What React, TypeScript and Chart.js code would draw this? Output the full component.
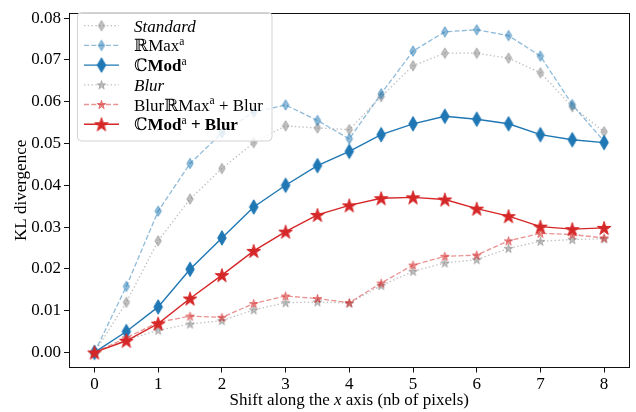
import React, { useEffect, useRef } from "react";
import { Chart, registerables } from "chart.js";

Chart.register(...registerables);

// ---------------- data ----------------
const shifts = [0, 0.5, 1, 1.5, 2, 2.5, 3, 3.5, 4, 4.5, 5, 5.5, 6, 6.5, 7, 7.5, 8];
const xTicks = [0, 1, 2, 3, 4, 5, 6, 7, 8];
const yTicks = [0, 0.01, 0.02, 0.03, 0.04, 0.05, 0.06, 0.07, 0.08];

const standard = [0.0, 0.0120, 0.0267, 0.0367, 0.0440, 0.0502, 0.0542, 0.0537, 0.0533, 0.0612, 0.0686, 0.0716, 0.0716, 0.0704, 0.0669, 0.0588, 0.0528];
const rmax = [0.0, 0.0158, 0.0338, 0.0452, 0.0525, 0.0575, 0.0592, 0.0555, 0.0511, 0.0619, 0.0721, 0.0767, 0.0772, 0.0758, 0.0709, 0.0593, 0.0505];
const cmod = [0.0, 0.0050, 0.0109, 0.0199, 0.0274, 0.0348, 0.0400, 0.0447, 0.0481, 0.0521, 0.0547, 0.0565, 0.0558, 0.0547, 0.0521, 0.0509, 0.0502];
const blur = [0.0, 0.0030, 0.0053, 0.0068, 0.0076, 0.0102, 0.0119, 0.0121, 0.0118, 0.0160, 0.0194, 0.0214, 0.0222, 0.0249, 0.0266, 0.0270, 0.0272];
const blurRmax = [0.0, 0.0035, 0.0072, 0.0087, 0.0084, 0.0117, 0.0135, 0.0129, 0.0119, 0.0166, 0.0209, 0.0230, 0.0233, 0.0267, 0.0285, 0.0282, 0.0274];
const cmodBlur = [0.0, 0.0028, 0.0069, 0.0129, 0.0185, 0.0243, 0.0289, 0.0329, 0.0352, 0.0369, 0.0371, 0.0366, 0.0344, 0.0326, 0.0301, 0.0295, 0.0298];

type Run = { t: string; s?: "italic" | "bold"; sup?: boolean };

const legendLabels: Run[][] = [
  [{ t: "Standard", s: "italic" }],
  [{ t: "ℝMax" }, { t: "a", sup: true }],
  [{ t: "ℂ" }, { t: "Mod", s: "bold" }, { t: "a", sup: true }],
  [{ t: "Blur", s: "italic" }],
  [{ t: "BlurℝMax" }, { t: "a", sup: true }, { t: " + Blur" }],
  [{ t: "ℂ" }, { t: "Mod", s: "bold" }, { t: "a", sup: true }, { t: " + Blur", s: "bold" }],
];
const xTitle: Run[] = [{ t: "Shift along the " }, { t: "x", s: "italic" }, { t: " axis (nb of pixels)" }];
const yTitle: Run[] = [{ t: "KL divergence" }];

// ---------------- styling ----------------
const FONT = '"Liberation Serif", "DejaVu Serif", "Times New Roman", serif';
const FS = 17;

const GRAY_LINE = "rgba(128,128,128,0.5)";
const BLUE = "rgb(31,119,180)";
const BLUE_A = "rgba(31,119,180,0.5)";
const RED = "rgb(214,39,40)";
const RED_A = "rgba(214,39,40,0.5)";

function diamond(w: number, h: number, color: string, lw: number) {
  const c = document.createElement("canvas");
  c.width = Math.ceil(w + lw + 4);
  c.height = Math.ceil(h + lw + 4);
  const g = c.getContext("2d")!;
  const cx = c.width / 2, cy = c.height / 2;
  g.beginPath();
  g.moveTo(cx, cy - h / 2);
  g.lineTo(cx + w / 2, cy);
  g.lineTo(cx, cy + h / 2);
  g.lineTo(cx - w / 2, cy);
  g.closePath();
  g.fillStyle = color;
  g.fill();
  g.strokeStyle = color;
  g.lineWidth = lw;
  g.lineJoin = "miter";
  g.stroke();
  return c;
}

function star(R: number, color: string, lw: number) {
  const c = document.createElement("canvas");
  c.width = Math.ceil(2 * R + lw + 4);
  c.height = Math.ceil(2 * R + lw + 4);
  const g = c.getContext("2d")!;
  const cx = c.width / 2, cy = c.height / 2 + R * 0.1;
  const r = R * 0.382;
  g.beginPath();
  for (let k = 0; k < 10; k++) {
    const ang = -Math.PI / 2 + (k * Math.PI) / 5;
    const rad = k % 2 === 0 ? R : r;
    const px = cx + rad * Math.cos(ang), py = cy + rad * Math.sin(ang);
    if (k === 0) g.moveTo(px, py); else g.lineTo(px, py);
  }
  g.closePath();
  g.fillStyle = color;
  g.fill();
  g.strokeStyle = color;
  g.lineWidth = lw;
  g.lineJoin = "miter";
  g.stroke();
  return c;
}

function fontFor(r: Run, size: number) {
  const st = r.s === "italic" ? "italic " : "";
  const wt = r.s === "bold" ? "bold " : "";
  return `${st}${wt}${r.sup ? size * 0.68 : size}px ${FONT}`;
}

function runsWidth(ctx: CanvasRenderingContext2D, runs: Run[], size: number) {
  let w = 0;
  for (const r of runs) {
    ctx.font = fontFor(r, size);
    w += ctx.measureText(r.t).width;
  }
  return w;
}

function drawRuns(ctx: CanvasRenderingContext2D, runs: Run[], x: number, y: number, size: number) {
  let cx = x;
  ctx.textBaseline = "alphabetic";
  ctx.textAlign = "left";
  for (const r of runs) {
    ctx.font = fontFor(r, size);
    ctx.fillText(r.t, cx, r.sup ? y - size * 0.38 : y);
    cx += ctx.measureText(r.t).width;
  }
}

export default function App() {
  const ref = useRef<HTMLCanvasElement | null>(null);

  useEffect(() => {
    const canvas = ref.current!;
    const mk = (arr: number[]) => shifts.map((x, i) => ({ x, y: arr[i] }));

    const series = [
      { label: "Standard", data: standard, line: GRAY_LINE, dash: [1.4, 2.4], lw: 1.3, marker: diamond(6.5, 10.5, "rgba(128,128,128,0.5)", 1) },
      { label: "RMax", data: rmax, line: BLUE_A, dash: [5, 2.3], lw: 1.3, marker: diamond(6.5, 10.5, BLUE_A, 1) },
      { label: "CMod", data: cmod, line: BLUE, dash: [], lw: 1.4, marker: diamond(8.5, 14.5, BLUE, 1) },
      { label: "Blur", data: blur, line: GRAY_LINE, dash: [1.4, 2.4], lw: 1.3, marker: star(4.6, "rgba(128,128,128,0.5)", 1) },
      { label: "BlurRMax", data: blurRmax, line: RED_A, dash: [5, 2.3], lw: 1.3, marker: star(4.6, RED_A, 1) },
      { label: "CModBlur", data: cmodBlur, line: RED, dash: [], lw: 1.4, marker: star(7.2, RED, 1) },
    ];

    const decor = {
      id: "decor",
      afterDraw(chart: any) {
        const ctx: CanvasRenderingContext2D = chart.ctx;
        const a = chart.chartArea;
        ctx.save();
        // frame
        ctx.strokeStyle = "#111";
        ctx.lineWidth = 1;
        const l = Math.round(a.left) + 0.5, t = Math.round(a.top) + 0.5;
        const r = Math.round(a.right) - 0.5, b = Math.round(a.bottom) - 0.5;
        ctx.strokeRect(l, t, r - l, b - t);

        ctx.fillStyle = "#000";
        // x title
        const xw = runsWidth(ctx, xTitle, FS);
        drawRuns(ctx, xTitle, (a.left + a.right) / 2 - xw / 2, 405, FS);
        // y title
        ctx.save();
        ctx.translate(26, (a.top + a.bottom) / 2);
        ctx.rotate(-Math.PI / 2);
        const yw = runsWidth(ctx, yTitle, FS);
        drawRuns(ctx, yTitle, -yw / 2, 0, FS);
        ctx.restore();

        // legend
        const bx = 77.5, by = 12.5, bw = 194.5, bh = 128.5, rad = 4;
        ctx.beginPath();
        ctx.moveTo(bx + rad, by);
        ctx.arcTo(bx + bw, by, bx + bw, by + bh, rad);
        ctx.arcTo(bx + bw, by + bh, bx, by + bh, rad);
        ctx.arcTo(bx, by + bh, bx, by, rad);
        ctx.arcTo(bx, by, bx + bw, by, rad);
        ctx.closePath();
        ctx.fillStyle = "rgba(255,255,255,0.8)";
        ctx.fill();
        ctx.strokeStyle = "#d3d3d3";
        ctx.lineWidth = 1;
        ctx.stroke();

        const rowY0 = 25.7, rowDy = 19.7;
        series.forEach((s, i) => {
          const cy = rowY0 + i * rowDy;
          ctx.save();
          ctx.strokeStyle = s.line;
          ctx.lineWidth = s.lw;
          ctx.setLineDash(s.dash);
          ctx.beginPath();
          ctx.moveTo(84, cy);
          ctx.lineTo(119, cy);
          ctx.stroke();
          ctx.restore();
          const m = s.marker;
          ctx.drawImage(m, 101.5 - m.width / 2, cy - m.height / 2);
          ctx.fillStyle = "#000";
          drawRuns(ctx, legendLabels[i], 134, cy + 6, FS);
        });
        ctx.restore();
      },
    };

    const chart = new Chart(canvas, {
      type: "line",
      data: {
        datasets: series.map((s, i) => ({
          label: s.label,
          data: mk(s.data),
          borderColor: s.line,
          borderWidth: s.lw,
          borderDash: s.dash,
          fill: false,
          tension: 0,
          pointStyle: s.marker as any,
          pointRadius: 5,
          pointHoverRadius: 5,
          order: series.length - i,
        })),
      },
      options: {
        animation: false,
        responsive: false,
        maintainAspectRatio: false,
        devicePixelRatio: 1,
        events: [],
        layout: { padding: { top: 3, right: 5, left: 0, bottom: 0 } },
        plugins: { legend: { display: false }, tooltip: { enabled: false }, title: { display: false } },
        scales: {
          x: {
            type: "linear",
            min: -0.4,
            max: 8.4,
            afterBuildTicks: (sc: any) => { sc.ticks = xTicks.map((v) => ({ value: v })); },
            afterFit: (sc: any) => { sc.height = 44.5; },
            grid: { drawOnChartArea: false, drawTicks: true, tickLength: 5, color: "#111", lineWidth: 1 },
            border: { display: false },
            ticks: { color: "#000", font: { family: FONT, size: FS }, padding: 2, maxRotation: 0, autoSkip: false, callback: (v: any) => String(v) },
          },
          y: {
            type: "linear",
            min: -0.0036,
            max: 0.08116,
            afterBuildTicks: (sc: any) => { sc.ticks = yTicks.map((v) => ({ value: v })); },
            afterFit: (sc: any) => { sc.width = 69; },
            grid: { drawOnChartArea: false, drawTicks: true, tickLength: 5, color: "#111", lineWidth: 1 },
            border: { display: false },
            ticks: { color: "#000", font: { family: FONT, size: FS }, padding: 3, autoSkip: false, callback: (v: any) => Number(v).toFixed(2) },
          },
        },
      },
      plugins: [decor],
    } as any);

    return () => chart.destroy();
  }, []);

  return (
    <div style={{ position: "fixed", left: 0, top: 0, width: 636, height: 412, background: "#fff" }}>
      <canvas ref={ref} width={636} height={412} style={{ width: 636, height: 412, display: "block" }} />
    </div>
  );
}
